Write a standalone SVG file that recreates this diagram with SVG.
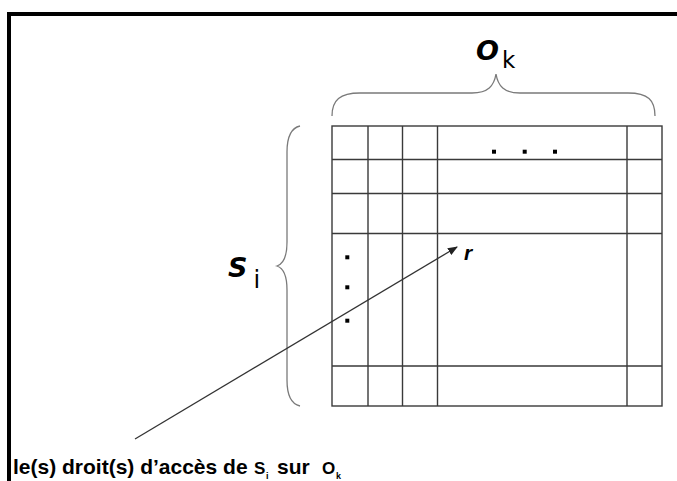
<svg xmlns="http://www.w3.org/2000/svg" width="677" height="481" viewBox="0 0 677 481">
  <style>
    .grid { stroke: #3a3a3a; stroke-width: 1.4; fill: none; }
    .brace { stroke: #7a7a7a; stroke-width: 1.3; fill: none; }
    .dot { fill: #000; }
    .bi { font-family: "DejaVu Sans", Verdana, sans-serif; font-weight: bold; font-style: italic; fill: #000; }
    .ri { font-family: "Liberation Sans", Arial, sans-serif; font-weight: bold; font-style: italic; fill: #000; }
    .reg { font-family: "DejaVu Sans", Verdana, sans-serif; fill: #000; }
    .lab { font-family: "Liberation Sans", Arial, sans-serif; font-weight: bold; fill: #000; }
  </style>
  <defs>
    <marker id="ah" markerWidth="10" markerHeight="8" refX="9" refY="4" orient="auto" markerUnits="userSpaceOnUse">
      <path d="M0,0 L10,4 L0,8 Z" fill="#222"/>
    </marker>
  </defs>
  <rect width="677" height="481" fill="#fff"/>
  <!-- frame -->
  <path d="M9,481 V14 H677" stroke="#000" stroke-width="4" fill="none"/>

  <g id="matrix">
    <rect class="grid" x="332" y="126" width="330" height="280"/>
    <path class="grid" d="M368,126 V406 M402.5,126 V406 M437.5,126 V406 M627,126 V406 M332,159.5 H662 M332,193.5 H662 M332,233.5 H662 M332,366 H662"/>
    <rect class="dot" x="345.3" y="255.3" width="4" height="4"/>
    <rect class="dot" x="345.3" y="285.3" width="4" height="4"/>
    <rect class="dot" x="345.3" y="318.7" width="4" height="4"/>
    <rect class="dot" x="492" y="149.7" width="4" height="4"/>
    <rect class="dot" x="522.7" y="149.7" width="4" height="4"/>
    <rect class="dot" x="553" y="149.7" width="4" height="4"/>
  </g>

  <g id="brace-ok">
    <path class="brace" d="M332,116 C332,100 340,93 360,93 H472 C488,93 494,86 496,74 C498,86 504,93 520,93 H628 C648,93 655,100 655,116"/>
    <text class="bi" x="476" y="59.5" font-size="27">O</text>
    <text class="reg" x="502" y="68" font-size="23">k</text>
  </g>

  <g id="brace-si">
    <path class="brace" d="M300,126 C291,128 287,136 287,152 V242 C287,258 283,264 277,266 C283,268 287,274 287,290 V380 C287,396 291,404 300,406"/>
    <text class="bi" x="228" y="276.5" font-size="27">S</text>
    <text class="reg" x="253.5" y="288" font-size="24">i</text>
  </g>

  <g id="connectors">
    <line x1="135" y1="439" x2="457" y2="247" stroke="#333" stroke-width="1.3" marker-end="url(#ah)"/>
  </g>

  <g id="label-r">
    <text class="ri" x="464" y="259.5" font-size="21">r</text>
  </g>

  <g id="caption">
    <text class="lab" x="13" y="474" font-size="21">le(s) droit(s) d’accès de </text>
    <text class="lab" x="254" y="474" font-size="17">S</text>
    <text class="lab" x="266" y="479" font-size="9">i</text>
    <text class="lab" x="277" y="474" font-size="21">sur</text>
    <text class="lab" x="322" y="474" font-size="17">O</text>
    <text class="lab" x="336" y="479" font-size="9">k</text>
  </g>
</svg>
